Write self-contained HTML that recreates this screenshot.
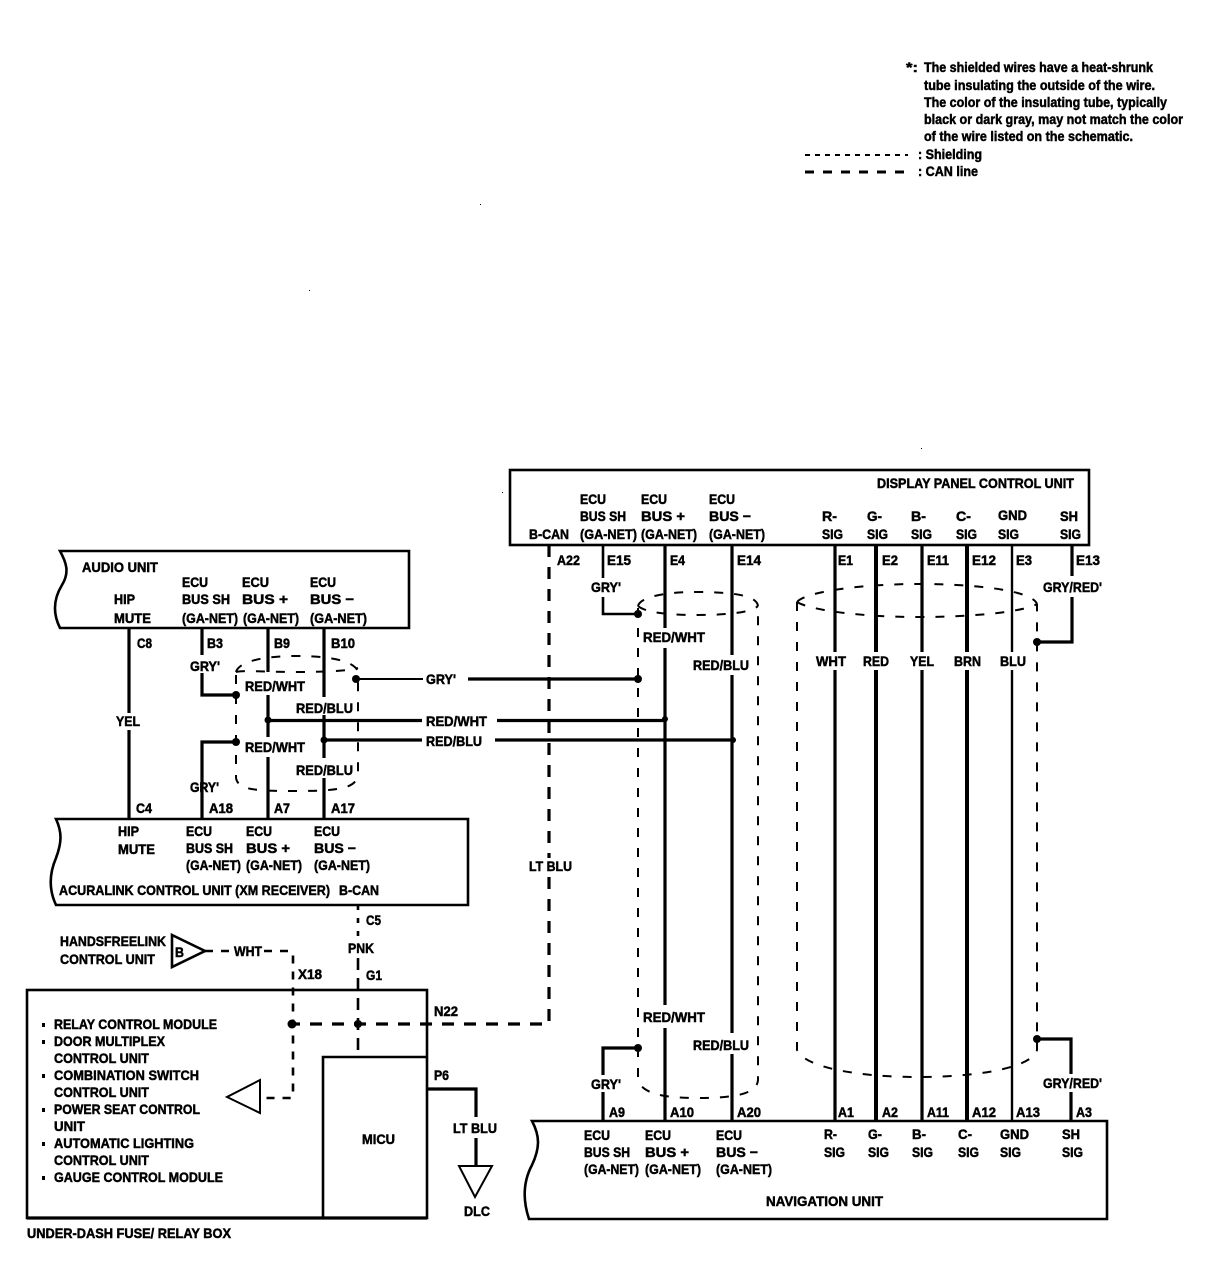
<!DOCTYPE html>
<html><head><meta charset="utf-8"><style>
html,body{margin:0;padding:0;background:#fff}
svg{display:block}
text{font-family:"Liberation Sans",sans-serif;font-weight:bold;font-size:14px;fill:#000;stroke:#000;stroke-width:.5}
.w{fill:none;stroke:#000;stroke-width:2}
.t{fill:none;stroke:#000;stroke-width:3.2}
.s{fill:none;stroke:#000;stroke-width:2;stroke-dasharray:9 11}
.c{fill:none;stroke:#000;stroke-width:3.2;stroke-dasharray:12 10}
.b{fill:none;stroke:#000;stroke-width:2.6}
</style></head><body>
<svg width="1216" height="1266" viewBox="0 0 1216 1266" xmlns="http://www.w3.org/2000/svg">
<!-- boxes -->
<path class="b" d="M60,551H409V628H60C52,612 54,598 62,585C70,572 66,562 60,551Z"/>
<path class="b" d="M56,819H468V905H56C48,888 50,872 56,858C62,842 62,832 56,819Z"/>
<rect class="b" x="510" y="470" width="579" height="75"/>
<path class="b" d="M532,1121H1107V1219H529C522,1198 524,1180 532,1165C540,1148 540,1136 532,1121Z"/>
<rect class="b" x="27" y="990" width="400" height="228"/>
<path class="b" d="M27,1218H427" style="stroke-width:3.2"/>
<path class="b" d="M323,1218V1057H427"/>
<!-- triangles -->
<path class="b" d="M172,935L205,951L172,967Z"/>
<path class="w" d="M260,1080L227,1097L260,1113Z"/>
<path class="w" d="M459,1166H492L475,1197Z"/>
<!-- left section wires -->
<path class="t" d="M129,628V713M129,730V818"/>
<path class="t" d="M202,628V655M202,673V695H236"/>
<path class="t" d="M236,742H202V818"/>
<path class="t" d="M268,628V672M268,695V737M268,757V818"/>
<path class="t" d="M324,628V697M324,715V758M324,778V818"/>
<path class="t" d="M268,720.5H422M497,720.5H665"/>
<path class="t" d="M324,740H422M495,740H733"/>
<path class="w" d="M356,679H423"/>
<path class="t" d="M468,679H638"/>
<!-- left shield -->
<path class="s" d="M236,672C238,664 255,656 297,656C340,656 356,664 358,672"/>
<path class="s" d="M236,672C245,670 260,672 297,672C335,672 352,670 358,668"/>
<path class="s" d="M236,675V778C238,790 255,791 297,791C340,791 356,788 358,775V675"/>
<!-- CAN -->
<path class="c" d="M549,545V858M549,877V1024H292"/>
<path class="c" d="M358,905V936" style="stroke-width:2.6;stroke-dasharray:5 8"/>
<path class="c" d="M358,958V1057" style="stroke-width:2.6;stroke-dasharray:12 8"/>
<path class="s" d="M205,951H232M264,951H290Q293,951 293,955V1096Q293,1098 290,1098H262" style="stroke-width:2.6;stroke-dasharray:8 8"/>
<!-- nav wires -->
<path class="w" d="M603,545V578M603,597V614H638" style="stroke-width:2.6"/>
<path class="t" d="M638,1048H603V1075M603,1092V1121"/>
<path class="t" d="M665,545V628M665,648V1005M665,1028V1121"/>
<path class="t" d="M732,545V655M732,675V1033M732,1054V1121"/>
<path class="t" d="M835,545V652M835,670V1121"/>
<path class="t" d="M876,545V652M876,670V1121" style="stroke-width:4"/>
<path class="t" d="M922,545V652M922,670V1121"/>
<path class="t" d="M967,545V652M967,670V1121" style="stroke-width:4"/>
<path class="t" d="M1012,545V652M1012,670V1121" style="stroke-width:2.4"/>
<path class="t" d="M1072,545V576M1072,597V642H1037"/>
<path class="t" d="M1037,1039H1071V1074M1071,1092V1121"/>
<path class="t" d="M427,1089H476V1117M476,1138V1165"/>
<!-- shields right -->
<path class="s" d="M638,606C640,598 660,592 697,592C740,592 757,597 758,606"/>
<path class="s" d="M638,606C645,612 665,615 697,615C730,615 752,612 758,606"/>
<path class="s" d="M638,608V1080C642,1094 665,1098 697,1098C735,1098 757,1094 758,1080V606"/>
<path class="s" d="M797,602C805,592 860,584 918,584C985,584 1033,592 1037,604"/>
<path class="s" d="M797,602C810,610 860,617 918,617C985,617 1028,610 1037,604"/>
<path class="s" d="M797,602V1050C805,1068 860,1077 918,1077C985,1077 1033,1066 1037,1050V604"/>
<!-- dots -->
<g fill="#000">
<circle cx="236" cy="695" r="4"/><circle cx="236" cy="742" r="4"/><circle cx="356" cy="679" r="4"/><circle cx="268" cy="720" r="3.5"/><circle cx="324" cy="740" r="3.5"/>
<circle cx="638" cy="679" r="4"/><circle cx="665" cy="719" r="3"/><circle cx="733" cy="740" r="3"/><circle cx="638" cy="614" r="4"/><circle cx="1037" cy="642" r="4"/>
<circle cx="638" cy="1048" r="4"/><circle cx="1037" cy="1039" r="4"/><circle cx="292" cy="1024" r="4.5"/><circle cx="358" cy="1024" r="4"/>
<rect x="42" y="1023" width="3" height="4"/><rect x="42" y="1040" width="3" height="4"/><rect x="42" y="1074" width="3" height="4"/><rect x="42" y="1108" width="3" height="4"/><rect x="42" y="1142" width="3" height="4"/><rect x="42" y="1176" width="3" height="4"/>
<rect x="480" y="204" width="1" height="1"/><rect x="309" y="290" width="1" height="1"/><rect x="921" y="448" width="1" height="1"/><rect x="502" y="492" width="1" height="1"/>
</g>
<!-- legend -->
<path fill="none" stroke="#000" stroke-width="2" stroke-dasharray="5 5" d="M805,155H908"/>
<path fill="none" stroke="#000" stroke-width="3" stroke-dasharray="9 9" d="M805,172H908"/>
<g>
<text x="906" y="72" textLength="12" lengthAdjust="spacingAndGlyphs">*:</text>
<text x="924" y="72" textLength="229" lengthAdjust="spacingAndGlyphs">The shielded wires have a heat-shrunk</text>
<text x="924" y="90" textLength="231" lengthAdjust="spacingAndGlyphs">tube insulating the outside of the wire.</text>
<text x="924" y="107" textLength="243" lengthAdjust="spacingAndGlyphs">The color of the insulating tube, typically</text>
<text x="924" y="124" textLength="259" lengthAdjust="spacingAndGlyphs">black or dark gray, may not match the color</text>
<text x="924" y="141" textLength="209" lengthAdjust="spacingAndGlyphs">of the wire listed on the schematic.</text>
<text x="918" y="159" textLength="64" lengthAdjust="spacingAndGlyphs">: Shielding</text>
<text x="918" y="176" textLength="60" lengthAdjust="spacingAndGlyphs">: CAN line</text>
<!-- audio -->
<text x="82" y="572" textLength="76" lengthAdjust="spacingAndGlyphs">AUDIO UNIT</text>
<text x="114" y="604" textLength="21" lengthAdjust="spacingAndGlyphs">HIP</text>
<text x="114" y="623" textLength="37" lengthAdjust="spacingAndGlyphs">MUTE</text>
<text x="182" y="587" textLength="26" lengthAdjust="spacingAndGlyphs">ECU</text>
<text x="182" y="604" textLength="48" lengthAdjust="spacingAndGlyphs">BUS SH</text>
<text x="182" y="623" textLength="56" lengthAdjust="spacingAndGlyphs">(GA-NET)</text>
<text x="242" y="587" textLength="27" lengthAdjust="spacingAndGlyphs">ECU</text>
<text x="242" y="604" textLength="46" lengthAdjust="spacingAndGlyphs">BUS +</text>
<text x="243" y="623" textLength="56" lengthAdjust="spacingAndGlyphs">(GA-NET)</text>
<text x="310" y="587" textLength="26" lengthAdjust="spacingAndGlyphs">ECU</text>
<text x="310" y="604" textLength="44" lengthAdjust="spacingAndGlyphs">BUS −</text>
<text x="310" y="623" textLength="57" lengthAdjust="spacingAndGlyphs">(GA-NET)</text>
<text x="137" y="648" textLength="15" lengthAdjust="spacingAndGlyphs">C8</text>
<text x="207" y="648" textLength="16" lengthAdjust="spacingAndGlyphs">B3</text>
<text x="274" y="648" textLength="16" lengthAdjust="spacingAndGlyphs">B9</text>
<text x="331" y="648" textLength="24" lengthAdjust="spacingAndGlyphs">B10</text>
<text x="190" y="671" textLength="30" lengthAdjust="spacingAndGlyphs">GRY'</text>
<text x="245" y="691" textLength="60" lengthAdjust="spacingAndGlyphs">RED/WHT</text>
<text x="296" y="713" textLength="57" lengthAdjust="spacingAndGlyphs">RED/BLU</text>
<text x="245" y="752" textLength="60" lengthAdjust="spacingAndGlyphs">RED/WHT</text>
<text x="296" y="775" textLength="57" lengthAdjust="spacingAndGlyphs">RED/BLU</text>
<text x="190" y="792" textLength="29" lengthAdjust="spacingAndGlyphs">GRY'</text>
<text x="116" y="726" textLength="24" lengthAdjust="spacingAndGlyphs">YEL</text>
<text x="136" y="813" textLength="16" lengthAdjust="spacingAndGlyphs">C4</text>
<text x="209" y="813" textLength="24" lengthAdjust="spacingAndGlyphs">A18</text>
<text x="274" y="813" textLength="16" lengthAdjust="spacingAndGlyphs">A7</text>
<text x="331" y="813" textLength="24" lengthAdjust="spacingAndGlyphs">A17</text>
<text x="426" y="684" textLength="30" lengthAdjust="spacingAndGlyphs">GRY'</text>
<text x="426" y="726" textLength="61" lengthAdjust="spacingAndGlyphs">RED/WHT</text>
<text x="426" y="746" textLength="56" lengthAdjust="spacingAndGlyphs">RED/BLU</text>
<!-- acuralink -->
<text x="118" y="836" textLength="21" lengthAdjust="spacingAndGlyphs">HIP</text>
<text x="118" y="854" textLength="37" lengthAdjust="spacingAndGlyphs">MUTE</text>
<text x="186" y="836" textLength="26" lengthAdjust="spacingAndGlyphs">ECU</text>
<text x="186" y="853" textLength="47" lengthAdjust="spacingAndGlyphs">BUS SH</text>
<text x="186" y="870" textLength="55" lengthAdjust="spacingAndGlyphs">(GA-NET)</text>
<text x="246" y="836" textLength="26" lengthAdjust="spacingAndGlyphs">ECU</text>
<text x="246" y="853" textLength="44" lengthAdjust="spacingAndGlyphs">BUS +</text>
<text x="246" y="870" textLength="56" lengthAdjust="spacingAndGlyphs">(GA-NET)</text>
<text x="314" y="836" textLength="26" lengthAdjust="spacingAndGlyphs">ECU</text>
<text x="314" y="853" textLength="42" lengthAdjust="spacingAndGlyphs">BUS −</text>
<text x="314" y="870" textLength="56" lengthAdjust="spacingAndGlyphs">(GA-NET)</text>
<text x="59" y="895" textLength="271" lengthAdjust="spacingAndGlyphs">ACURALINK CONTROL UNIT (XM RECEIVER)</text>
<text x="339" y="895" textLength="40" lengthAdjust="spacingAndGlyphs">B-CAN</text>
<text x="366" y="925" textLength="15" lengthAdjust="spacingAndGlyphs">C5</text>
<text x="348" y="953" textLength="26" lengthAdjust="spacingAndGlyphs">PNK</text>
<text x="366" y="980" textLength="16" lengthAdjust="spacingAndGlyphs">G1</text>
<text x="60" y="946" textLength="106" lengthAdjust="spacingAndGlyphs">HANDSFREELINK</text>
<text x="60" y="964" textLength="95" lengthAdjust="spacingAndGlyphs">CONTROL UNIT</text>
<text x="175" y="957" textLength="9" lengthAdjust="spacingAndGlyphs">B</text>
<text x="234" y="956" textLength="28" lengthAdjust="spacingAndGlyphs">WHT</text>
<text x="298" y="979" textLength="24" lengthAdjust="spacingAndGlyphs">X18</text>
<!-- fuse box -->
<text x="54" y="1029" textLength="163" lengthAdjust="spacingAndGlyphs">RELAY CONTROL MODULE</text>
<text x="54" y="1046" textLength="111" lengthAdjust="spacingAndGlyphs">DOOR MULTIPLEX</text>
<text x="54" y="1063" textLength="95" lengthAdjust="spacingAndGlyphs">CONTROL UNIT</text>
<text x="54" y="1080" textLength="145" lengthAdjust="spacingAndGlyphs">COMBINATION SWITCH</text>
<text x="54" y="1097" textLength="95" lengthAdjust="spacingAndGlyphs">CONTROL UNIT</text>
<text x="54" y="1114" textLength="146" lengthAdjust="spacingAndGlyphs">POWER SEAT CONTROL</text>
<text x="54" y="1131" textLength="31" lengthAdjust="spacingAndGlyphs">UNIT</text>
<text x="54" y="1148" textLength="140" lengthAdjust="spacingAndGlyphs">AUTOMATIC LIGHTING</text>
<text x="54" y="1165" textLength="95" lengthAdjust="spacingAndGlyphs">CONTROL UNIT</text>
<text x="54" y="1182" textLength="169" lengthAdjust="spacingAndGlyphs">GAUGE CONTROL MODULE</text>
<text x="27" y="1238" textLength="204" lengthAdjust="spacingAndGlyphs">UNDER-DASH FUSE/ RELAY BOX</text>
<text x="362" y="1144" textLength="33" lengthAdjust="spacingAndGlyphs">MICU</text>
<text x="434" y="1016" textLength="24" lengthAdjust="spacingAndGlyphs">N22</text>
<text x="434" y="1080" textLength="15" lengthAdjust="spacingAndGlyphs">P6</text>
<text x="453" y="1133" textLength="44" lengthAdjust="spacingAndGlyphs">LT BLU</text>
<text x="464" y="1216" textLength="26" lengthAdjust="spacingAndGlyphs">DLC</text>
<!-- display -->
<text x="877" y="488" textLength="197" lengthAdjust="spacingAndGlyphs">DISPLAY PANEL CONTROL UNIT</text>
<text x="529" y="539" textLength="40" lengthAdjust="spacingAndGlyphs">B-CAN</text>
<text x="580" y="504" textLength="26" lengthAdjust="spacingAndGlyphs">ECU</text>
<text x="580" y="521" textLength="46" lengthAdjust="spacingAndGlyphs">BUS SH</text>
<text x="580" y="539" textLength="57" lengthAdjust="spacingAndGlyphs">(GA-NET)</text>
<text x="641" y="504" textLength="26" lengthAdjust="spacingAndGlyphs">ECU</text>
<text x="641" y="521" textLength="44" lengthAdjust="spacingAndGlyphs">BUS +</text>
<text x="641" y="539" textLength="56" lengthAdjust="spacingAndGlyphs">(GA-NET)</text>
<text x="709" y="504" textLength="26" lengthAdjust="spacingAndGlyphs">ECU</text>
<text x="709" y="521" textLength="42" lengthAdjust="spacingAndGlyphs">BUS −</text>
<text x="709" y="539" textLength="56" lengthAdjust="spacingAndGlyphs">(GA-NET)</text>
<text x="822" y="521" textLength="15" lengthAdjust="spacingAndGlyphs">R-</text>
<text x="822" y="539" textLength="21" lengthAdjust="spacingAndGlyphs">SIG</text>
<text x="867" y="521" textLength="15" lengthAdjust="spacingAndGlyphs">G-</text>
<text x="867" y="539" textLength="21" lengthAdjust="spacingAndGlyphs">SIG</text>
<text x="911" y="521" textLength="15" lengthAdjust="spacingAndGlyphs">B-</text>
<text x="911" y="539" textLength="21" lengthAdjust="spacingAndGlyphs">SIG</text>
<text x="956" y="521" textLength="15" lengthAdjust="spacingAndGlyphs">C-</text>
<text x="956" y="539" textLength="21" lengthAdjust="spacingAndGlyphs">SIG</text>
<text x="998" y="520" textLength="29" lengthAdjust="spacingAndGlyphs">GND</text>
<text x="998" y="539" textLength="21" lengthAdjust="spacingAndGlyphs">SIG</text>
<text x="1060" y="521" textLength="18" lengthAdjust="spacingAndGlyphs">SH</text>
<text x="1060" y="539" textLength="21" lengthAdjust="spacingAndGlyphs">SIG</text>
<text x="557" y="565" textLength="23" lengthAdjust="spacingAndGlyphs">A22</text>
<text x="607" y="565" textLength="24" lengthAdjust="spacingAndGlyphs">E15</text>
<text x="670" y="565" textLength="15" lengthAdjust="spacingAndGlyphs">E4</text>
<text x="737" y="565" textLength="24" lengthAdjust="spacingAndGlyphs">E14</text>
<text x="838" y="565" textLength="15" lengthAdjust="spacingAndGlyphs">E1</text>
<text x="882" y="565" textLength="16" lengthAdjust="spacingAndGlyphs">E2</text>
<text x="927" y="565" textLength="22" lengthAdjust="spacingAndGlyphs">E11</text>
<text x="972" y="565" textLength="24" lengthAdjust="spacingAndGlyphs">E12</text>
<text x="1016" y="565" textLength="16" lengthAdjust="spacingAndGlyphs">E3</text>
<text x="1076" y="565" textLength="24" lengthAdjust="spacingAndGlyphs">E13</text>
<text x="591" y="592" textLength="30" lengthAdjust="spacingAndGlyphs">GRY'</text>
<text x="1043" y="592" textLength="59" lengthAdjust="spacingAndGlyphs">GRY/RED'</text>
<text x="643" y="642" textLength="62" lengthAdjust="spacingAndGlyphs">RED/WHT</text>
<text x="693" y="670" textLength="56" lengthAdjust="spacingAndGlyphs">RED/BLU</text>
<text x="816" y="666" textLength="30" lengthAdjust="spacingAndGlyphs">WHT</text>
<text x="863" y="666" textLength="26" lengthAdjust="spacingAndGlyphs">RED</text>
<text x="910" y="666" textLength="24" lengthAdjust="spacingAndGlyphs">YEL</text>
<text x="954" y="666" textLength="27" lengthAdjust="spacingAndGlyphs">BRN</text>
<text x="1000" y="666" textLength="26" lengthAdjust="spacingAndGlyphs">BLU</text>
<text x="529" y="871" textLength="43" lengthAdjust="spacingAndGlyphs">LT BLU</text>
<text x="643" y="1022" textLength="62" lengthAdjust="spacingAndGlyphs">RED/WHT</text>
<text x="693" y="1050" textLength="56" lengthAdjust="spacingAndGlyphs">RED/BLU</text>
<text x="591" y="1089" textLength="30" lengthAdjust="spacingAndGlyphs">GRY'</text>
<text x="1043" y="1088" textLength="59" lengthAdjust="spacingAndGlyphs">GRY/RED'</text>
<!-- nav -->
<text x="609" y="1117" textLength="16" lengthAdjust="spacingAndGlyphs">A9</text>
<text x="670" y="1117" textLength="24" lengthAdjust="spacingAndGlyphs">A10</text>
<text x="737" y="1117" textLength="24" lengthAdjust="spacingAndGlyphs">A20</text>
<text x="838" y="1117" textLength="16" lengthAdjust="spacingAndGlyphs">A1</text>
<text x="882" y="1117" textLength="16" lengthAdjust="spacingAndGlyphs">A2</text>
<text x="927" y="1117" textLength="22" lengthAdjust="spacingAndGlyphs">A11</text>
<text x="972" y="1117" textLength="24" lengthAdjust="spacingAndGlyphs">A12</text>
<text x="1016" y="1117" textLength="24" lengthAdjust="spacingAndGlyphs">A13</text>
<text x="1076" y="1117" textLength="16" lengthAdjust="spacingAndGlyphs">A3</text>
<text x="584" y="1140" textLength="26" lengthAdjust="spacingAndGlyphs">ECU</text>
<text x="584" y="1157" textLength="46" lengthAdjust="spacingAndGlyphs">BUS SH</text>
<text x="584" y="1174" textLength="55" lengthAdjust="spacingAndGlyphs">(GA-NET)</text>
<text x="645" y="1140" textLength="26" lengthAdjust="spacingAndGlyphs">ECU</text>
<text x="645" y="1157" textLength="44" lengthAdjust="spacingAndGlyphs">BUS +</text>
<text x="645" y="1174" textLength="56" lengthAdjust="spacingAndGlyphs">(GA-NET)</text>
<text x="716" y="1140" textLength="26" lengthAdjust="spacingAndGlyphs">ECU</text>
<text x="716" y="1157" textLength="42" lengthAdjust="spacingAndGlyphs">BUS −</text>
<text x="716" y="1174" textLength="56" lengthAdjust="spacingAndGlyphs">(GA-NET)</text>
<text x="824" y="1139" textLength="13" lengthAdjust="spacingAndGlyphs">R-</text>
<text x="824" y="1157" textLength="21" lengthAdjust="spacingAndGlyphs">SIG</text>
<text x="868" y="1139" textLength="14" lengthAdjust="spacingAndGlyphs">G-</text>
<text x="868" y="1157" textLength="21" lengthAdjust="spacingAndGlyphs">SIG</text>
<text x="912" y="1139" textLength="14" lengthAdjust="spacingAndGlyphs">B-</text>
<text x="912" y="1157" textLength="21" lengthAdjust="spacingAndGlyphs">SIG</text>
<text x="958" y="1139" textLength="14" lengthAdjust="spacingAndGlyphs">C-</text>
<text x="958" y="1157" textLength="21" lengthAdjust="spacingAndGlyphs">SIG</text>
<text x="1000" y="1139" textLength="29" lengthAdjust="spacingAndGlyphs">GND</text>
<text x="1000" y="1157" textLength="21" lengthAdjust="spacingAndGlyphs">SIG</text>
<text x="1062" y="1139" textLength="18" lengthAdjust="spacingAndGlyphs">SH</text>
<text x="1062" y="1157" textLength="21" lengthAdjust="spacingAndGlyphs">SIG</text>
<text x="766" y="1206" textLength="117" lengthAdjust="spacingAndGlyphs">NAVIGATION UNIT</text>
</g>
</svg>
</body></html>
